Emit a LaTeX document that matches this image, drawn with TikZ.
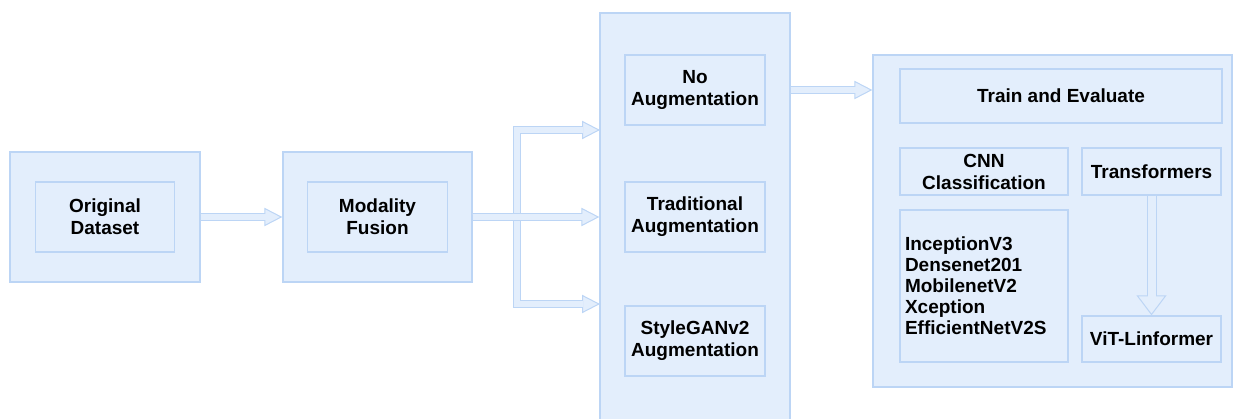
\documentclass[tikz,border=0pt]{standalone}
\usepackage{fontspec}
\setsansfont{Liberation Sans}
\usetikzlibrary{arrows.meta}

\definecolor{fillblue}{HTML}{E3EEFC}
\definecolor{edgeblue}{HTML}{BCD5F5}

\begin{document}
\begin{tikzpicture}[x=0.6pt,y=-0.6pt,
    font=\sffamily\bfseries\fontsize{11.4}{13.2}\selectfont,
    panel/.style 2 args={draw=edgeblue, fill=fillblue, line width=0.8pt,
      minimum width=#1*0.6pt, minimum height=#2*0.6pt, inner sep=0pt},
    cell/.style 2 args={panel={#1}{#2}, align=center},
    % hollow block arrows
    flow/.style={draw=fillblue, line width=3.8pt, line join=miter,
      preaction={-, draw=edgeblue, line width=5pt, shorten >=10.6pt},
      postaction={-, draw=fillblue, line width=3.8pt, shorten >=10pt},
      -{Triangle[length=10.8pt, width=11pt, line width=0.6pt,
        fill=fillblue, color=edgeblue]}},
    vflow/.style={draw=fillblue, line width=4.8pt,
      preaction={-, draw=edgeblue, line width=6pt, shorten >=11.8pt},
      postaction={-, draw=fillblue, line width=4.8pt, shorten >=11.2pt},
      -{Triangle[length=12pt, width=18pt, line width=0.6pt,
        fill=fillblue, color=edgeblue]}}]

  \useasboundingbox (0,0) rectangle (1242,419);

  \node[panel={190}{130}] (orig) at (105,217) {};
  \node[cell={139}{70}] (origtxt) at (orig) {Original\\Dataset};

  \node[panel={189}{130}] (fusion) at (377.5,217) {};
  \node[cell={140}{70}] (fusiontxt) at (fusion) {Modality\\Fusion};

  \node[panel={190}{417}] (aug) at (695,221.5) {};
  \node[cell={140}{70}] (noaug)   at (695,90)  {No\\Augmentation};
  \node[cell={140}{70}] (tradaug) at (695,217) {Traditional\\Augmentation};
  \node[cell={140}{70}] (ganaug)  at (695,341) {StyleGANv2\\Augmentation};

  \node[panel={359}{332}] (train) at (1052.5,221) {};
  \node[cell={322}{54}] (evaltxt) at (1061,96)    {Train and Evaluate};
  \node[cell={168}{47}] (cnn)     at (984,171.5)  {CNN\\Classification};
  \node[cell={139}{47}] (trans)   at (1151.5,171.5) {Transformers};
  \node[panel={168}{152}, align=left, text width=94.8pt,
        font=\sffamily\bfseries\fontsize{11.4}{12.6}\selectfont]
        (models) at (984,286)
        {InceptionV3\\Densenet201\\MobilenetV2\\Xception\\EfficientNetV2S};
  \node[cell={139}{46}] (vit)     at (1151.5,339) {ViT-Linformer};

  \coordinate (split) at (517,217);
  \coordinate (upin)  at (600,130);
  \coordinate (lowin) at (600,304);

  \draw[flow] (orig.east) -- (fusion.west);
  \draw[flow] (fusion.east) -- (split) |- (upin);
  \draw[flow] (fusion.east) -- (split) |- (lowin);
  \draw[flow] (fusion.east) -- (aug.west |- fusion);
  \draw[flow] (aug.east |- noaug) -- (train.west |- noaug);
  \draw[vflow] (trans.south) -- (vit.north);
\end{tikzpicture}
\end{document}
